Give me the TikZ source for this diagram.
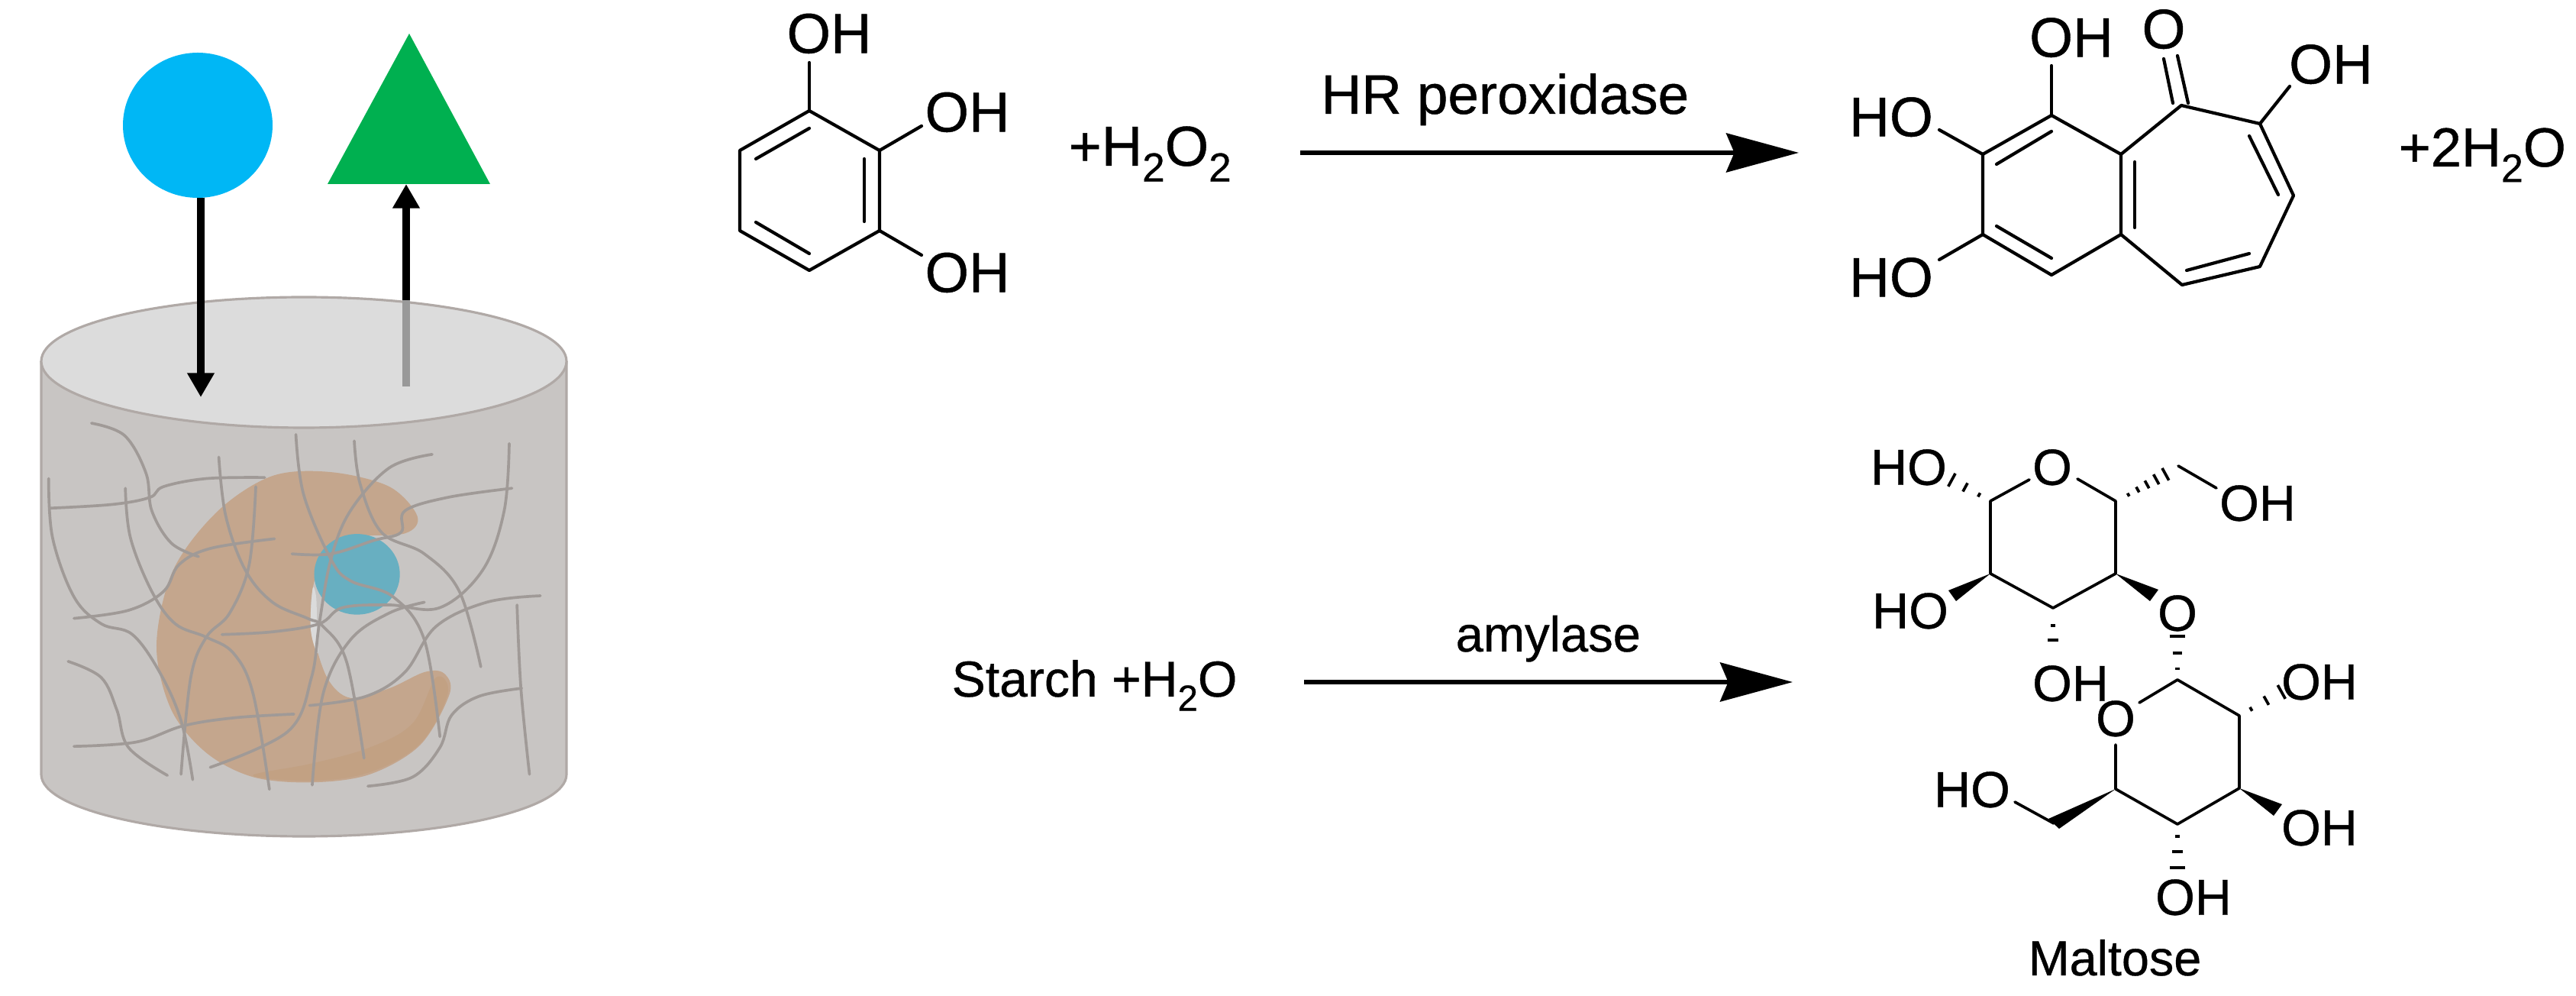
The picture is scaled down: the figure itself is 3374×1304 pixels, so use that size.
\documentclass[tikz,border=0pt]{standalone}
\usepackage{fontspec}
\setmainfont{Liberation Sans}[FakeBold=0.6]
\usetikzlibrary{calc,arrows.meta,shapes.geometric}
\definecolor{cylSide}{HTML}{C8C5C3}
\definecolor{cylTop}{HTML}{DCDCDC}
\definecolor{cylEdge}{HTML}{B0A9A6}
\definecolor{enzymeC}{HTML}{C4A68D}
\definecolor{enzymeD}{HTML}{C2A183}
\definecolor{pocketC}{HTML}{68AFC1}
\definecolor{fibreC}{HTML}{A09A97}
\definecolor{skyC}{HTML}{00B7F5}
\definecolor{leafC}{HTML}{00B050}
\newcommand{\lowtwo}{\raisebox{-0.28em}{\scalebox{0.72}{2}}}
\newcommand{\hashb}[3]{\foreach \f in {#3} \draw[bondB,line cap=butt] ($(#1)!\f!(#2)!\f*3pt!90:(#2)$) -- ($(#1)!\f!(#2)!\f*3pt!-90:(#2)$);}
\tikzset{
 bondA/.style={line width=1.2pt,line cap=round,line join=round,black},
 bondB/.style={line width=1.05pt,line cap=round,line join=round,black},
 labA/.style={font=\fontsize{20.8}{24}\selectfont,inner sep=0pt,text height=15pt,text depth=0pt,anchor=center},
 labB/.style={font=\fontsize{18.9}{22}\selectfont,inner sep=0pt,text height=13.5pt,text depth=0pt,anchor=center},
 labT/.style={inner sep=0pt,anchor=base west},
 fibre/.style={draw=fibreC,line width=1.05pt,line cap=round,line join=round},
 rxnarrow/.style={line width=1.6pt,black,-{Stealth[length=27pt,width=14.5pt,inset=3pt]}},
 gelarrow/.style={line width=3.1pt,black,-{Triangle[length=9pt,width=9.6pt]}},
}
\begin{document}
\begin{tikzpicture}[x=0.01cm,y=-0.01cm]
\path[use as bounding box,fill=white] (0,0) rectangle (3374,1304);

% ---------- hydrogel cylinder ----------
\fill[cylSide] (54,473) -- (54,1014) .. controls (54,1059) and (208,1095) .. (398,1095)
  .. controls (588,1095) and (742,1059) .. (742,1014) -- (742,473) -- cycle;
\draw[cylEdge,line width=0.9pt] (54,473) -- (54,1014) .. controls (54,1059) and (208,1095) .. (398,1095)
  .. controls (588,1095) and (742,1059) .. (742,1014) -- (742,473);
\filldraw[fill=cylTop,draw=cylEdge,line width=0.9pt] (54,473) .. controls (54,426) and (208,389) .. (398,389)
  .. controls (588,389) and (742,426) .. (742,473) .. controls (742,520) and (588,560) .. (398,560)
  .. controls (208,560) and (54,520) .. (54,473) -- cycle;

\begin{scope}[x=0.01cm/1.96,y=-0.01cm/1.42]
 \fill[enzymeC] plot[smooth cycle,tension=0.55] coordinates {(1072,960) (1000,905) (850,878) (700,885) (560,950) (445,1060) (402,1200)
   (440,1320) (530,1400) (650,1445) (800,1455) (950,1440) (1080,1385) (1155,1290) (1140,1252) (1090,1250) (1000,1280) (900,1298)
   (840,1260) (802,1170) (802,1100) (830,1040) (900,1000) (1040,992)};
 \fill[enzymeD] plot[smooth cycle,tension=0.6] coordinates {(650,1442) (800,1452) (950,1436) (1080,1382) (1150,1290) (1120,1260) (1060,1345) (950,1390) (800,1420)};
 \fill[black!14] plot[smooth cycle,tension=0.6] coordinates {(803,1095) (798,1170) (816,1215) (814,1160) (812,1110)};
 \node[ellipse,fill=pocketC,inner sep=0pt,minimum width=0.01cm*220/1.96,minimum height=0.01cm*150/1.42] (pocket) at (917,1068) {};
 \draw[fibre] plot[smooth,tension=0.6] coordinates {(235,787) (320,810) (375,880) (390,950) (440,1010) (510,1035)};
 \draw[fibre] plot[smooth,tension=0.6] coordinates {(125,890) (135,1000) (190,1110) (260,1160) (340,1180) (410,1250) (465,1340) (495,1450)};
 \draw[fibre] plot[smooth,tension=0.6] coordinates {(130,945) (290,938) (385,925) (420,905) (530,890) (680,888)};
 \draw[fibre] plot[smooth,tension=0.6] coordinates {(322,908) (335,1000) (390,1100) (450,1160) (530,1185) (600,1215) (650,1290) (692,1468)};
 \draw[fibre] plot[smooth,tension=0.6] coordinates {(190,1150) (330,1135) (420,1100) (460,1050) (540,1020) (705,1002)};
 \draw[fibre] plot[smooth,tension=0.6] coordinates {(562,850) (580,960) (630,1060) (700,1120) (790,1150) (830,1165) (890,1230) (935,1410)};
 \draw[fibre] plot[smooth,tension=0.6] coordinates {(657,905) (640,1050) (590,1140) (530,1185) (490,1260) (465,1440)};
 \draw[fibre] plot[smooth,tension=0.6] coordinates {(760,808) (780,920) (850,1040) (900,1080) (1010,1110) (1090,1190) (1130,1370)};
 \draw[fibre] plot[smooth,tension=0.6] coordinates {(910,820) (925,900) (980,990) (1090,1030) (1180,1100) (1235,1240)};
 \draw[fibre] plot[smooth,tension=0.6] coordinates {(1110,845) (1000,870) (900,950) (850,1040) (820,1160) (800,1260) (740,1360) (540,1427)};
 \draw[fibre] plot[smooth,tension=0.6] coordinates {(750,1030) (850,1030) (960,1005) (1030,990) (1040,950) (1150,925) (1315,908)};
 \draw[fibre] plot[smooth,tension=0.6] coordinates {(1308,825) (1295,950) (1240,1060) (1130,1130) (1000,1125) (880,1130) (820,1160) (700,1175) (570,1180)};
 \draw[fibre] plot[smooth,tension=0.6] coordinates {(1388,1108) (1250,1120) (1120,1165) (1040,1250) (940,1295) (795,1312)};
 \draw[fibre] plot[smooth,tension=0.6] coordinates {(1090,1120) (1000,1140) (900,1190) (830,1290) (802,1460)};
 \draw[fibre] plot[smooth,tension=0.6] coordinates {(175,1230) (260,1260) (300,1320) (330,1390) (430,1442)};
 \draw[fibre] plot[smooth,tension=0.6] coordinates {(190,1388) (350,1380) (470,1350) (600,1335) (755,1328)};
 \draw[fibre] plot[smooth,tension=0.6] coordinates {(1328,1125) (1338,1280) (1360,1440)};
 \draw[fibre] plot[smooth,tension=0.6] coordinates {(945,1462) (1060,1445) (1130,1390) (1160,1330) (1230,1295) (1340,1280)};
\end{scope}

% ---------- substrate and product above the gel ----------
\node[ellipse,fill=skyC,inner sep=0pt,minimum width=196*0.01cm,minimum height=190*0.01cm] (ball) at (259,164) {};
\fill[leafC] (536,44) -- (429,241) -- (642,241) -- cycle;
\coordinate (downS) at (263,259); \coordinate (downE) at (263,520);
\draw[gelarrow] (downS) -- (downE);
\coordinate (upS) at (532,393); \coordinate (upE) at (532,241); \coordinate (upG) at (532,506);
\draw[line width=3.1pt,color=black!40] (upG) -- (upS);
\draw[gelarrow] (upS) -- (upE);

% ---------- pyrogallol ----------
\coordinate (p1) at (1060,145); \coordinate (p2) at (1152,197); \coordinate (p3) at (1152,302);
\coordinate (p4) at (1060,354); \coordinate (p5) at (969,302); \coordinate (p6) at (969,197);
\draw[bondA] (p1) -- (p2) -- (p3) -- (p4) -- (p5) -- (p6) -- cycle;
\coordinate (pi1) at (990,208); \coordinate (pi2) at (1060,168); \draw[bondA] (pi1) -- (pi2);
\coordinate (pi3) at (1132,208); \coordinate (pi4) at (1132,290); \draw[bondA] (pi3) -- (pi4);
\coordinate (pi5) at (990,291); \coordinate (pi6) at (1060,332); \draw[bondA] (pi5) -- (pi6);
\node[labA,font=\fontsize{21}{24}\selectfont] (pOH1) at (1086,43) {OH};
\node[labA,font=\fontsize{21}{24}\selectfont] (pOH2) at (1267,146) {OH};
\node[labA,font=\fontsize{21}{24}\selectfont] (pOH3) at (1267,356) {OH};
\coordinate (pe1) at (1060,82); \coordinate (pe2) at (1207,165); \coordinate (pe3) at (1207,334);
\draw[bondA] (p1) -- (pe1); \draw[bondA] (p2) -- (pe2); \draw[bondA] (p3) -- (pe3);

% ---------- first reaction ----------
\node[labT,font=\fontsize{21}{24}\selectfont] (tH2O2) at (1399,217) {+H\lowtwo O\lowtwo};
\node[labT,font=\fontsize{20.7}{24}\selectfont] (tHRP) at (1730,149) {HR peroxidase};
\coordinate (r1s) at (1703,200); \coordinate (r1e) at (2356,200);
\draw[rxnarrow] (r1s) -- (r1e);

% ---------- purpurogallin ----------
\coordinate (a1) at (2687,151); \coordinate (a2) at (2597,202); \coordinate (a3) at (2597,307);
\coordinate (a4) at (2687,360); \coordinate (a5) at (2778,307); \coordinate (a6) at (2778,202);
\coordinate (a7) at (2857,138); \coordinate (a8) at (2960,162); \coordinate (a9) at (3004,256);
\coordinate (a10) at (2960,349); \coordinate (a11) at (2858,373);
\draw[bondA] (a1) -- (a2) -- (a3) -- (a4) -- (a5) -- (a6) -- cycle;
\draw[bondA] (a6) -- (a7) -- (a8) -- (a9) -- (a10) -- (a11) -- (a5);
\coordinate (b1) at (2615,215); \coordinate (b2) at (2687,172); \draw[bondA] (b1) -- (b2);
\coordinate (b3) at (2796,212); \coordinate (b4) at (2796,298); \draw[bondA] (b3) -- (b4);
\coordinate (b5) at (2615,296); \coordinate (b6) at (2687,338); \draw[bondA] (b5) -- (b6);
\coordinate (b7) at (2946,178); \coordinate (b8) at (2984,255); \draw[bondA] (b7) -- (b8);
\coordinate (b9) at (2864,354); \coordinate (b10) at (2946,332); \draw[bondA] (b9) -- (b10);
\coordinate (o1) at (2834,77); \coordinate (o2) at (2846,135); \draw[bondA] (o1) -- (o2);
\coordinate (o3) at (2852,73); \coordinate (o4) at (2866,135); \draw[bondA] (o3) -- (o4);
\node[labA] (qOH1) at (2713,48) {OH};
\node[labA] (qO) at (2834,37) {O};
\node[labA] (qOH2) at (3053,83) {OH};
\node[labA] (qHO1) at (2477,152) {HO};
\node[labA] (qHO2) at (2477,362) {HO};
\coordinate (c1) at (2687,86); \coordinate (c2) at (2999,113); \coordinate (c3) at (2540,170); \coordinate (c4) at (2540,340);
\draw[bondA] (a1) -- (c1); \draw[bondA] (a8) -- (c2); \draw[bondA] (a2) -- (c3); \draw[bondA] (a3) -- (c4);
\node[labT,font=\fontsize{20.5}{24}\selectfont] (t2H2O) at (3141,218) {+2H\lowtwo O};

% ---------- second reaction ----------
\node[labT,font=\fontsize{18.8}{22}\selectfont] (tStarch) at (1246,912) {Starch +H\lowtwo O};
\node[labT,font=\fontsize{18.5}{22}\selectfont] (tAmy) at (1906,853) {amylase};
\coordinate (r2s) at (1708,893); \coordinate (r2e) at (2348,893);
\draw[rxnarrow] (r2s) -- (r2e);

% ---------- maltose ----------
\coordinate (m1) at (2607,656); \coordinate (m2) at (2607,751); \coordinate (m3) at (2689,796);
\coordinate (m4) at (2771,751); \coordinate (m5) at (2771,656);
\coordinate (mO1) at (2658,628); \coordinate (mO2) at (2721,627);
\draw[bondB] (mO1) -- (m1) -- (m2) -- (m3) -- (m4) -- (m5) -- (mO2);
\node[labB] (nO1) at (2688,611) {O};
\node[labB] (nHO1) at (2500,611) {HO};
\node[labB] (nHO2) at (2502,799) {HO};
\node[labB] (nOH3) at (2712,894) {OH};
\node[labB] (nOl) at (2852,802) {O};
\node[labB] (nOH4) at (2957,658) {OH};
% hashed bonds upper ring
\coordinate (h1a) at (2607,656); \coordinate (h1b) at (2552,626);
\hashb{h1a}{h1b}{0.27,0.6,0.92}
\coordinate (h2a) at (2771,657); \coordinate (h2b) at (2847,615);
\hashb{h2a}{h2b}{0.22,0.38,0.54,0.7,0.86}
\coordinate (h3a) at (2689,803); \coordinate (h3b) at (2689,857);
\hashb{h3a}{h3b}{0.3,0.65,1}
\coordinate (h4a) at (2852,890); \coordinate (h4b) at (2852,832);
\hashb{h4a}{h4b}{0.25,0.6,0.98}
% wedges upper ring
\coordinate (w1a) at (2552,773); \coordinate (w1b) at (2562,787);
\fill[black] (m2) -- (w1a) -- (w1b) -- cycle;
\coordinate (w2a) at (2827,772); \coordinate (w2b) at (2816,787);
\fill[black] (m4) -- (w2a) -- (w2b) -- cycle;
% CH2OH
\coordinate (m6) at (2853,610); \coordinate (m6e) at (2903,639);
\draw[bondB] (m6) -- (m6e);
% lower ring
\coordinate (l1) at (2852,890); \coordinate (l2) at (2933,937); \coordinate (l3) at (2933,1032);
\coordinate (l4) at (2852,1079); \coordinate (l5) at (2771,1033);
\coordinate (lO1) at (2802,920); \coordinate (lO2) at (2771,975);
\draw[bondB] (lO1) -- (l1) -- (l2) -- (l3) -- (l4) -- (l5) -- (lO2);
\node[labB] (nO2) at (2771,940) {O};
\node[labB] (nOH5) at (3038,892) {OH};
\node[labB] (nOH6) at (3038,1083) {OH};
\node[labB] (nOH7) at (2873,1174) {OH};
\node[labB] (nHO8) at (2583,1033) {HO};
\coordinate (h5a) at (2933,937); \coordinate (h5b) at (2990,905);
\hashb{h5a}{h5b}{0.27,0.62,0.97}
\coordinate (h6a) at (2852,1079); \coordinate (h6b) at (2852,1137);
\hashb{h6a}{h6b}{0.27,0.62,0.98}
\coordinate (w3a) at (2989,1053); \coordinate (w3b) at (2978,1068);
\fill[black] (l3) -- (w3a) -- (w3b) -- cycle;
\coordinate (w4a) at (2683,1072); \coordinate (w4b) at (2697,1085);
\fill[black] (l5) -- (w4a) -- (w4b) -- cycle;
\coordinate (m7) at (2690,1078); \coordinate (m7e) at (2639,1050);
\draw[bondB] (m7) -- (m7e);
\node[labT,font=\fontsize{18.4}{22}\selectfont] (tMalt) at (2656,1277) {Maltose};
\end{tikzpicture}
\end{document}
